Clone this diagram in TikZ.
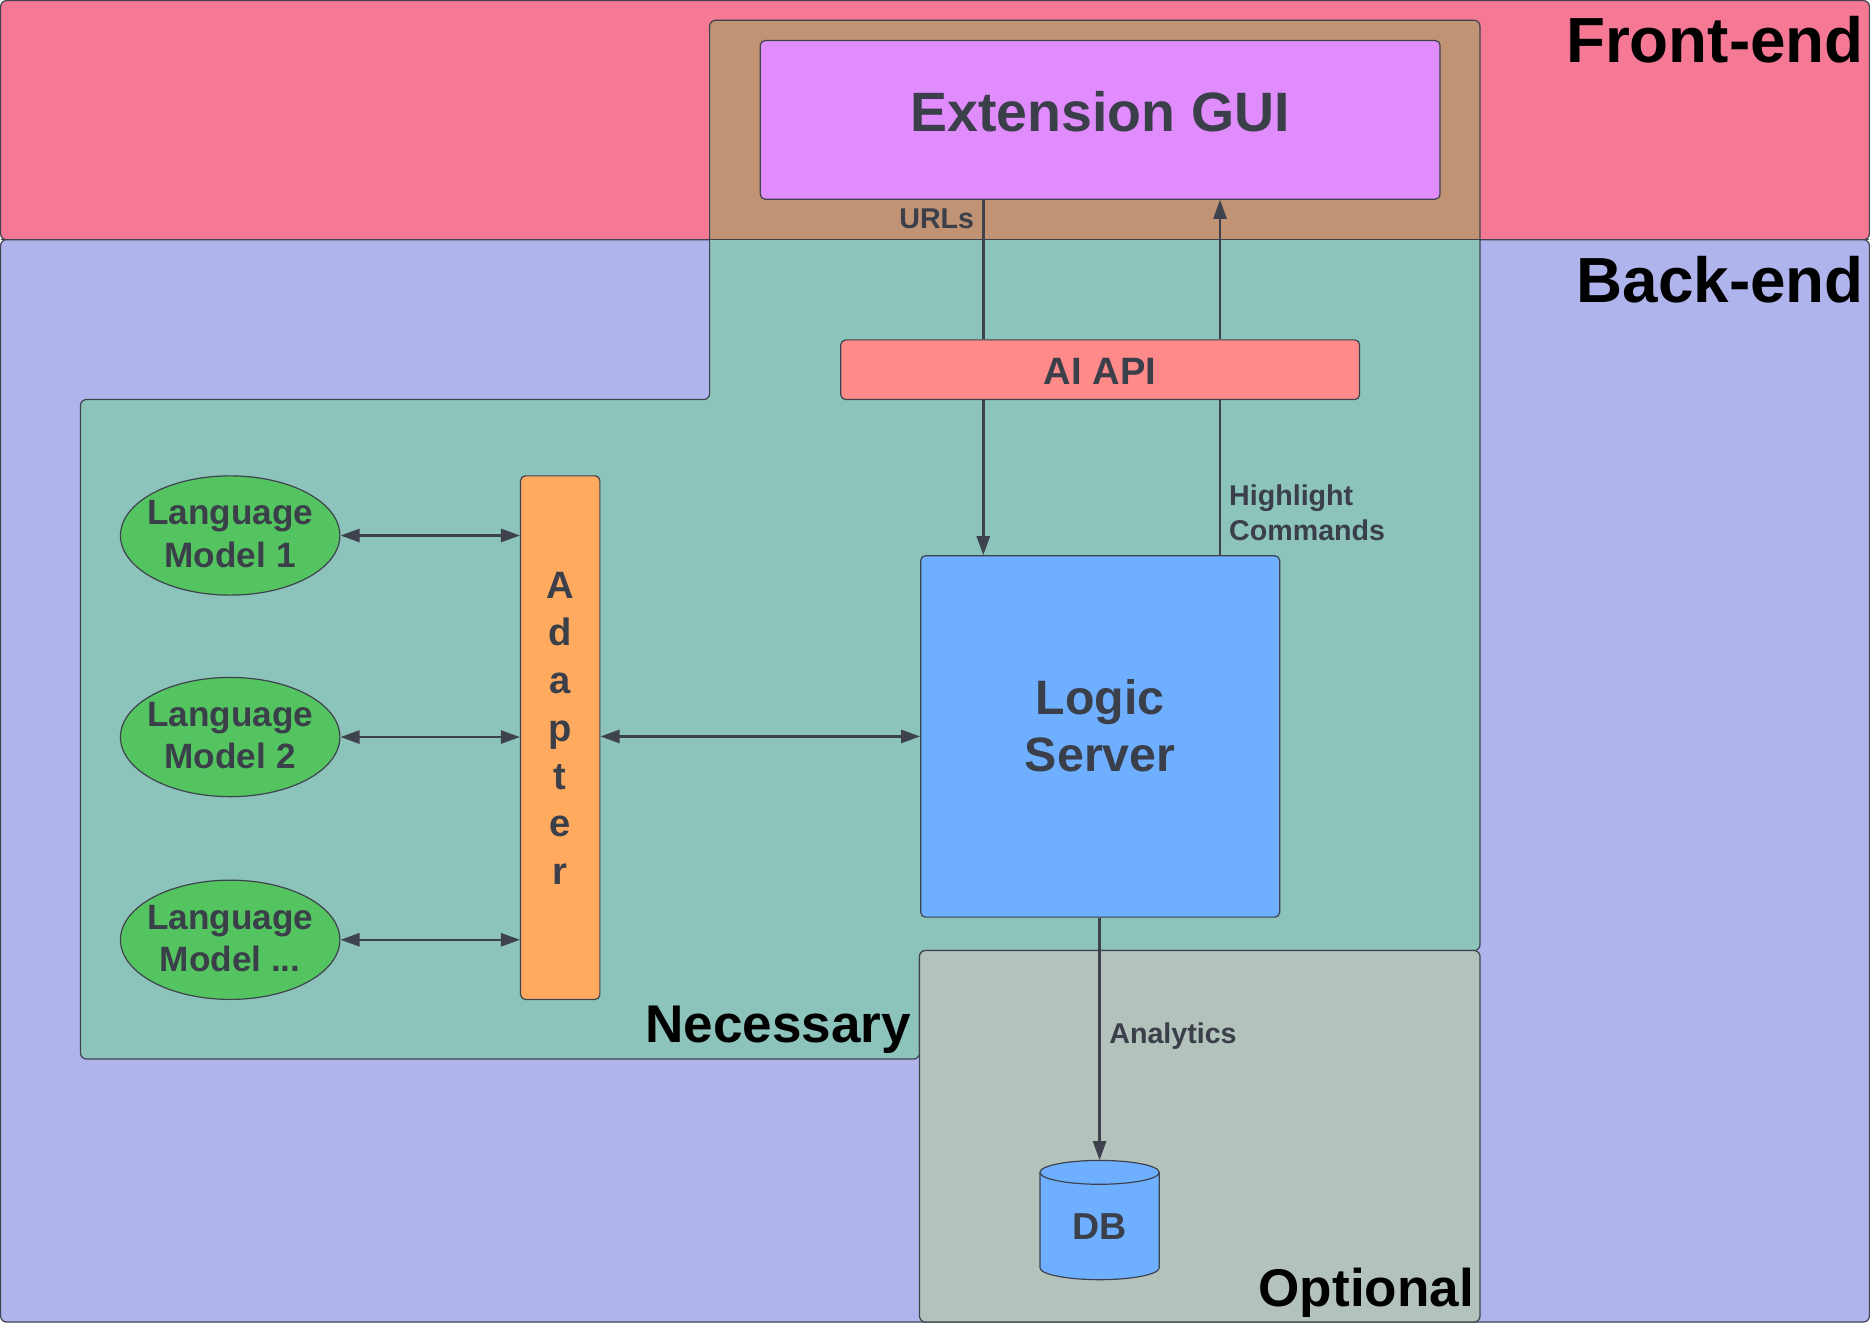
\documentclass[tikz,border=0pt]{standalone}
\usepackage{fontspec}
\setmainfont{Liberation Sans}
\usetikzlibrary{arrows.meta,shapes.geometric}
\definecolor{cpink}{RGB}{245,121,148}
\definecolor{clav}{RGB}{176,180,237}
\definecolor{cbrown}{RGB}{193,147,117}
\definecolor{cteal}{RGB}{140,196,188}
\definecolor{cgrey}{RGB}{179,195,188}
\definecolor{cpurple}{RGB}{224,140,252}
\definecolor{csalmon}{RGB}{255,138,138}
\definecolor{corange}{RGB}{255,170,95}
\definecolor{cblue}{RGB}{110,175,255}
\definecolor{cgreen}{RGB}{84,196,96}
\definecolor{ctext}{RGB}{58,63,74}
\definecolor{cline}{RGB}{62,66,76}
\newcommand{\twolines}[2]{\makebox[0pt]{\begin{tabular}[b]{@{}c@{}}#1\\#2\end{tabular}}}
\begin{document}
\begin{tikzpicture}[x=1pt,y=-1pt,
  region/.style={draw=cline, line width=1pt, rounded corners=5pt},
  box/.style={draw=cline, line width=1pt, rounded corners=4pt, inner sep=0pt, text=ctext, text depth=0pt},
  conn/.style={draw=cline, line width=2pt},
  arr/.style={conn, -{Triangle[length=16pt,width=11pt]}},
  darr/.style={conn, {Triangle[length=16pt,width=11pt]}-{Triangle[length=16pt,width=11pt]}},
  lbl/.style={font=\bfseries\fontsize{24}{29}\selectfont, text=ctext, inner sep=0pt},
  title/.style={font=\bfseries\fontsize{53.5}{60}\selectfont, text=black, inner sep=0pt},
  subtitle/.style={font=\bfseries\fontsize{44.5}{52}\selectfont, text=black, inner sep=0pt},
  lmnode/.style={box, ellipse, fill=cgreen, minimum width=184pt, minimum height=100pt, font=\bfseries\fontsize{29.5}{35.5}\selectfont, text height=53.4pt}
]
\useasboundingbox (0,0) rectangle (1568,1109);
% bands
\draw[region, fill=cpink] (0.5,0.5) rectangle (1567.5,201);
\draw[region, fill=clav] (0.5,201) rectangle (1567.5,1108.5);
% necessary region
\fill[cteal, rounded corners=5pt] (595,17) -- (1241,17) -- (1241,797) -- (771,797) -- (771,888) -- (67.5,888) -- (67.5,335) -- (595,335) -- cycle;
\begin{scope}
\clip (0,0) rectangle (1568,201);
\fill[cbrown, rounded corners=5pt] (595,17) -- (1241,17) -- (1241,797) -- (771,797) -- (771,888) -- (67.5,888) -- (67.5,335) -- (595,335) -- cycle;
\end{scope}
\draw[cline, line width=1pt] (0.5,201) -- (1567.5,201);
\draw[region] (595,17) -- (1241,17) -- (1241,797) -- (771,797) -- (771,888) -- (67.5,888) -- (67.5,335) -- (595,335) -- cycle;
% optional region
\draw[region, fill=cgrey] (771,797) rectangle (1241,1108.5);
% titles
\node[title, anchor=base east] (tfront) at (1563,52.5) {Front-end};
\node[title, anchor=base east] (tback) at (1563,253.5) {Back-end};
\node[subtitle, anchor=base east] (tnec) at (764,874.5) {Necessary};
\node[subtitle, anchor=base east] (topt) at (1236,1095.5) {Optional};
% main nodes
\node[box, fill=cpurple, minimum width=570pt, minimum height=133pt, font=\bfseries\fontsize{46.5}{55}\selectfont, text height=19pt] (gui) at (922.5,100.5) {Extension GUI};
\node[box, fill=csalmon, minimum width=435pt, minimum height=50pt, font=\bfseries\fontsize{32}{38}\selectfont, text height=24pt] (api) at (922.5,310) {AI API};
\node[box, fill=cblue, minimum width=301pt, minimum height=303pt, align=center, font=\bfseries\fontsize{40.5}{48}\selectfont, text height=59.6pt] (logic) at (922.5,617.5) {Logic\\Server};
\node[box, fill=corange, minimum width=66.5pt, minimum height=439pt, align=center, font=\bfseries\fontsize{32}{40}\selectfont, text height=246.2pt] (adapter) at (469.75,618.5) {A\\d\\a\\p\\t\\e\\r};
\node[lmnode] (lm1) at (193,449) {\twolines{Language}{Model 1}};
\node[lmnode] (lm2) at (193,618) {\twolines{Language}{Model 2}};
\node[lmnode] (lm3) at (193,788) {\twolines{Language}{Model ...}};
% database cylinder
\draw[cline, line width=1pt, fill=cblue] (872,983) -- (872,1063) arc[start angle=180, end angle=0, x radius=50, y radius=10] -- (972,983) arc[start angle=360, end angle=180, x radius=50, y radius=10] -- cycle;
\draw[cline, line width=1pt] (872,983) arc[start angle=180, end angle=0, x radius=50, y radius=10];
\node[inner sep=0pt, minimum width=100pt, minimum height=100pt, text=ctext, font=\bfseries\fontsize{31.5}{38}\selectfont, text height=32pt, text depth=0pt] (db) at (922,1023) {DB};
% connectors
\coordinate (urlx) at (824.5,0);
\coordinate (hlx) at (1023,0);
\draw[conn] (urlx |- gui.south) -- (urlx |- api.north);
\draw[arr] (urlx |- api.south) -- (urlx |- logic.north);
\draw[conn] (hlx |- logic.north) -- (hlx |- api.south);
\draw[arr] (hlx |- api.north) -- (hlx |- gui.south);
\draw[darr] (lm1.east) -- (lm1.east -| adapter.west);
\draw[darr] (lm2.east) -- (lm2.east -| adapter.west);
\draw[darr] (lm3.east) -- (lm3.east -| adapter.west);
\draw[darr] (adapter.east |- logic.west) -- (logic.west);
\draw[arr] (logic.south -| db.north) -- (db.north);
% connector labels
\node[lbl, anchor=base east] (lurl) at (817,192) {URLs};
\node[lbl, anchor=base west, align=left] (lhl) at (1030.5,453) {Highlight\\Commands};
\node[lbl, anchor=base west] (lan) at (930,875) {Analytics};
\end{tikzpicture}
\end{document}
